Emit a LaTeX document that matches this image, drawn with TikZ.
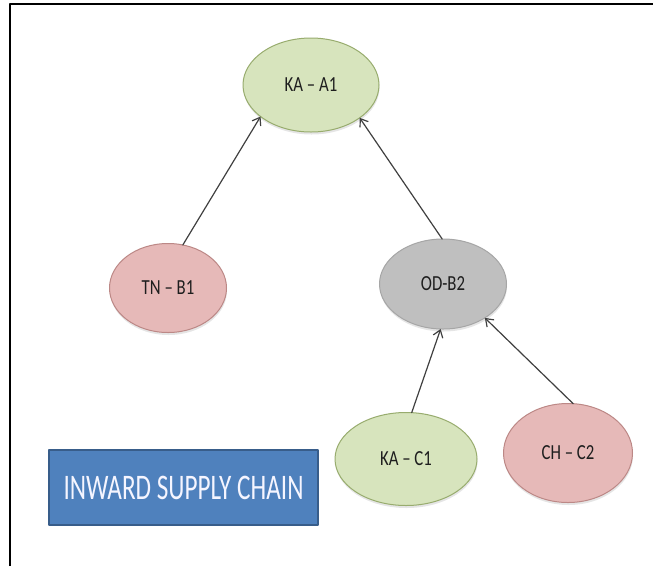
\documentclass[tikz,border=0pt]{standalone}
\usepackage{fontspec}
\usepackage{xcolor}
\newfontfamily\chainfont[FakeStretch=0.78,Ligatures=TeX]{Carlito}
\newfontfamily\titlefont[FakeStretch=0.7,Ligatures=TeX]{Carlito}
\usetikzlibrary{arrows.meta,positioning,shapes.geometric,shadows}
\definecolor{scgreen}{HTML}{D7E4BD}
\definecolor{scgreenline}{HTML}{98AC6E}
\definecolor{scred}{HTML}{E6B9B8}
\definecolor{scredline}{HTML}{BC8886}
\definecolor{scgrey}{HTML}{BFBFBF}
\definecolor{scgreyline}{HTML}{A6A6A6}
\definecolor{scblue}{HTML}{4F81BD}
\definecolor{scblueline}{HTML}{385D8A}
\definecolor{sctext}{HTML}{1E1E1E}
\tikzset{
  every picture/.append style={line cap=round,line join=round},
  sc node/.style={ellipse,draw,line width=1pt,inner sep=0pt,outer sep=0pt,
    text=sctext,font=\chainfont\fontsize{21.5}{24}\selectfont,
    drop shadow={shadow xshift=0.5pt,shadow yshift=-2.5pt,opacity=0.2}},
  sc green/.style={sc node,fill=scgreen,draw=scgreenline},
  sc red/.style={sc node,fill=scred,draw=scredline},
  sc grey/.style={sc node,fill=scgrey,draw=scgreyline},
  sc link/.style={line width=1.2pt,draw=black!75,-{Straight Barb[length=7pt,width=10pt]}},
  sc title/.style={rectangle,draw=scblueline,line width=1.2pt,fill=scblue,
    text=blue!4,font=\titlefont\fontsize{36}{40}\selectfont,
    minimum width=269pt,minimum height=75pt}
}
\begin{document}
\begin{tikzpicture}[x=1pt,y=-1pt]
  \useasboundingbox (0,0) rectangle (653,566);
  \fill[white] (0,0) rectangle (653,566);
  \draw[line width=2.5pt,line cap=butt] (10,566) -- (10,4) -- (653,4);

  \node[sc green,minimum width=136pt,minimum height=94pt] (kaa1) at (311,85) {KA -- A1};
  \node[sc red,minimum width=117pt,minimum height=89pt] (tnb1) at (168,288) {TN -- B1};
  \node[sc grey,minimum width=127pt,minimum height=90pt] (odb2) at (443,284) {OD-B2};
  \node[sc green,minimum width=142pt,minimum height=93pt] (kac1) at (406,459) {KA -- C1};
  \node[sc red,minimum width=129pt,minimum height=99pt] (chc2) at (568,453) {CH -- C2};

  \node[sc title] (title) at (183.5,487.5) {INWARD SUPPLY CHAIN};

  \draw[sc link] (tnb1.71) -- (kaa1.212);
  \draw[sc link] (odb2.91) -- (kaa1.326);
  \draw[sc link] (kac1.83) -- (odb2.267);
  \draw[sc link] (chc2.84) -- (odb2.321);
\end{tikzpicture}
\end{document}
